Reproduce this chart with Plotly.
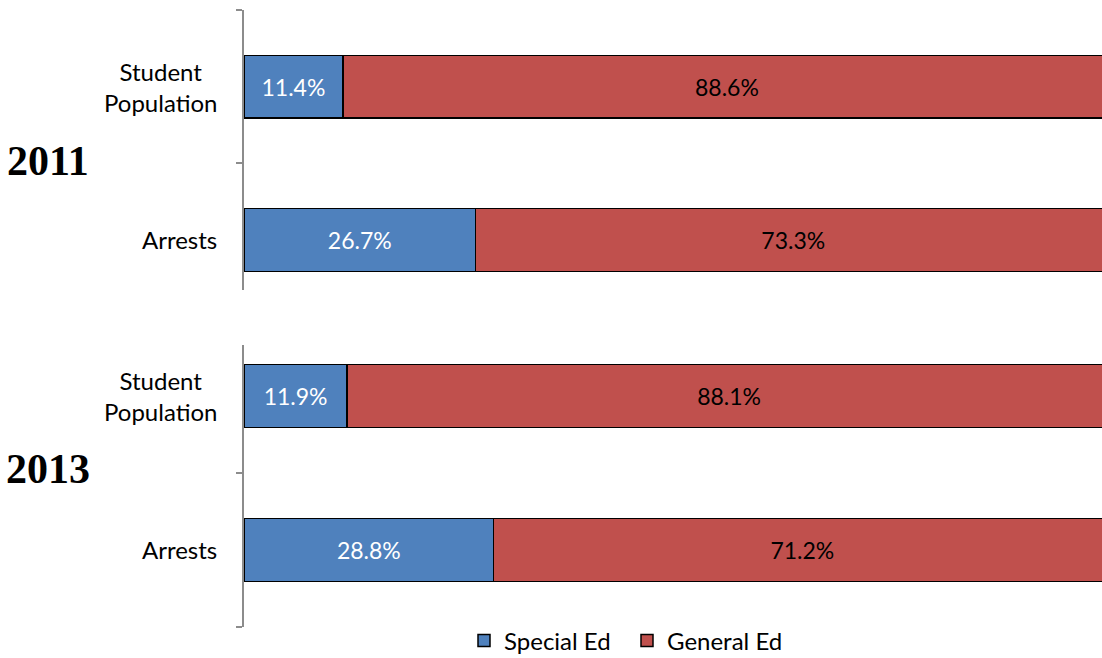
import plotly.graph_objects as go

# Share of students and of arrests, by education group
categories = ["Arrests", "Student Population"]
years = ["2011", "2013"]
special_ed = {"2011": [26.7, 11.4], "2013": [28.8, 11.9]}
general_ed = {"2011": [73.3, 88.6], "2013": [71.2, 88.1]}

BLUE = "#4F81BD"
RED = "#C0504D"
AXIS_GRAY = "#8C8C8C"
SANS = "Lato, 'Open Sans', sans-serif"

W, H = 1102, 658
fig = go.Figure()

for i, yr in enumerate(years):
    yax = "y" if i == 0 else "y2"
    fig.add_trace(go.Bar(
        name="Special Ed", y=categories, x=special_ed[yr], orientation="h",
        yaxis=yax, xaxis="x" if i == 0 else "x2",
        marker=dict(color=BLUE, line=dict(color="black", width=1.5)),
        width=0.41, legendgroup="sp", showlegend=(i == 0),
        texttemplate="%{x:.1f}%", textposition="inside", insidetextanchor="middle",
        constraintext="none", textfont=dict(color="white", size=23, family=SANS),
    ))
    fig.add_trace(go.Bar(
        name="General Ed", y=categories, x=general_ed[yr], orientation="h",
        yaxis=yax, xaxis="x" if i == 0 else "x2",
        marker=dict(color=RED, line=dict(color="black", width=1.5)),
        width=0.41, legendgroup="ge", showlegend=(i == 0),
        texttemplate="%{x:.1f}%", textposition="inside", insidetextanchor="middle",
        constraintext="none", textfont=dict(color="black", size=23, family=SANS),
    ))

x_left = 244 / W
x_max = 100 * (W - 244) / 867  # right part of the 100% bars runs off the page

def pv(px):
    return 1 - px / H

yaxis_common = dict(
    type="category", categoryorder="array", categoryarray=categories,
    showline=True, linecolor=AXIS_GRAY, linewidth=1.5,
    ticks="outside", ticklen=6, tickcolor=AXIS_GRAY, tickwidth=1.5,
    tickson="boundaries", showticklabels=False, showgrid=False, zeroline=False,
)
xaxis_common = dict(range=[0, x_max], visible=False, domain=[x_left, 1])

fig.update_layout(
    width=W, height=H,
    margin=dict(l=0, r=0, t=0, b=0, autoexpand=False),
    paper_bgcolor="white", plot_bgcolor="white",
    barmode="stack",
    xaxis=dict(**xaxis_common, anchor="y"),
    xaxis2=dict(**xaxis_common, anchor="y2"),
    yaxis=dict(**yaxis_common, domain=[pv(290), pv(10)], range=[-0.327, 1.502], anchor="x"),
    yaxis2=dict(**yaxis_common, domain=[pv(627), pv(345)], range=[-0.502, 1.333], anchor="x2"),
    legend=dict(
        orientation="h", x=464 / W, xanchor="left", y=pv(641), yanchor="middle",
        font=dict(size=24, family=SANS, color="black"), traceorder="normal",
        itemwidth=30, entrywidth=118, bgcolor="rgba(0,0,0,0)",
    ),
    showlegend=True,
)

# Category labels, centred on each bar
annotations = []
for yref in ["y", "y2"]:
    for cat in categories:
        annotations.append(dict(
            text=cat.replace(" ", "<br>"), x=219 / W, xref="paper", xanchor="right",
            y=cat, yref=yref, yanchor="middle", showarrow=False, align="center",
            font=dict(size=24, family=SANS, color="black"),
        ))

# Year labels
for yr, ypx in zip(years, [161, 469]):
    annotations.append(dict(
        text=f"<b>{yr}</b>", x=48 / W, xref="paper", xanchor="center",
        y=pv(ypx), yref="paper", yanchor="middle", showarrow=False,
        font=dict(size=42, family="'Liberation Serif', 'DejaVu Serif', serif", color="black"),
    ))

fig.update_layout(annotations=annotations)
fig.write_html("out.html")
